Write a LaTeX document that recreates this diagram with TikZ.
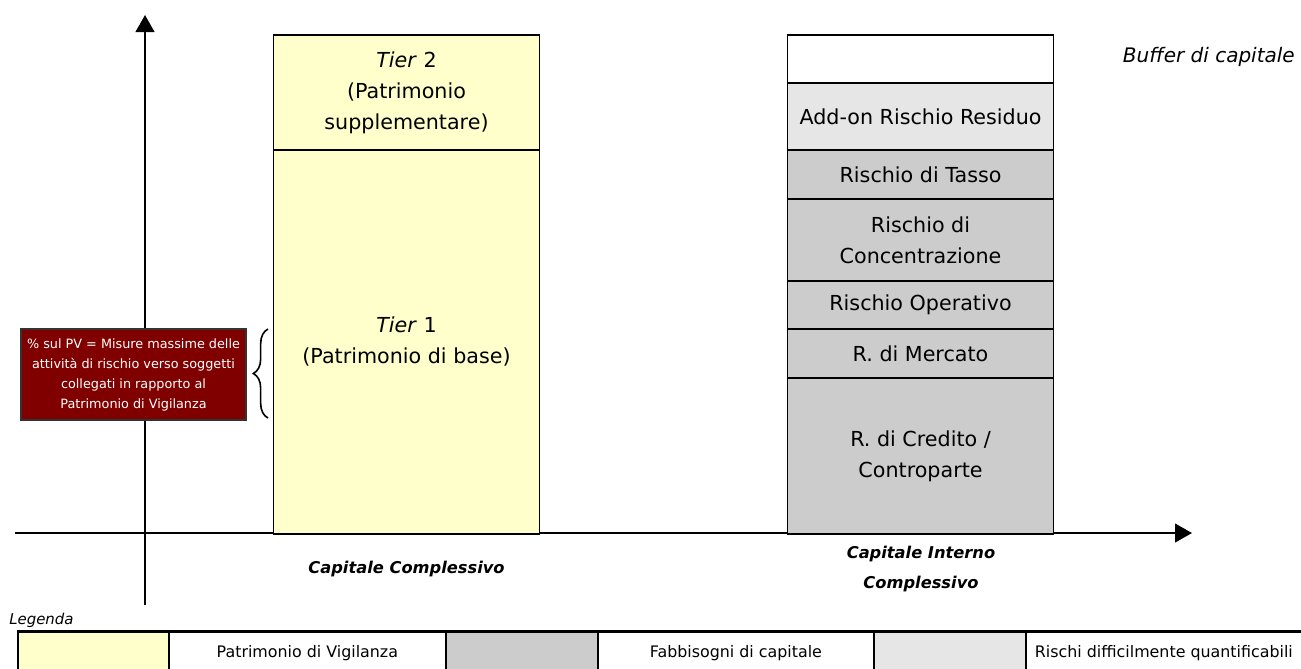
\documentclass[tikz,border=0pt]{standalone}
\usepackage{fontspec}
\setmainfont{DejaVu Sans}
\usetikzlibrary{arrows.meta,decorations.pathreplacing}
\definecolor{pvyellow}{HTML}{FFFFCC}
\definecolor{fgray}{HTML}{CCCCCC}
\definecolor{lgray}{HTML}{E6E6E6}
\definecolor{dred}{HTML}{800000}
\begin{document}
\begin{tikzpicture}[x=0.75pt,y=-0.75pt,
  seg/.style={draw=black, line width=1.4pt, minimum width=199.5pt, inner sep=0pt,
    anchor=north, align=center, font=\fontsize{15.5}{23.25}\selectfont},
  axis/.style={line width=1.6pt, -{Triangle[width=14pt,length=12.75pt]}},
  redbox/.style={draw=black!80, line width=1pt, fill=dred, text=white, minimum width=168.75pt,
    minimum height=68.25pt, inner sep=0pt, align=center, font=\fontsize{9.6}{15}\selectfont},
  caplab/.style={align=center, font=\fontsize{12.2}{22.5}\selectfont\bfseries\itshape},
  legcell/.style={draw=black, line width=1.3pt, anchor=north west, minimum height=31.5pt,
    inner sep=0pt, font=\fontsize{11.9}{13}\selectfont}
]
\useasboundingbox (0,0) rectangle (1301,668);
% axes
\coordinate (yb) at (145,605);
\coordinate (yt) at (145,15);
\coordinate (xl) at (15,533);
\coordinate (xr) at (1192,533);
\draw[axis] (yb) -- (yt);
\draw[axis] (xl) -- (xr);
% left column
\node[seg, fill=pvyellow, minimum height=86.25pt] (tier2) at (406.5,34)
  {\textit{Tier} 2\\(Patrimonio\\supplementare)};
\node[seg, fill=pvyellow, minimum height=288pt] (tier1) at (406.5,149)
  {\textit{Tier} 1\\(Patrimonio di base)};
% right column
\node[seg, fill=white, minimum height=36pt] (buffer) at (920.5,34) {};
\node[seg, fill=lgray, minimum height=50.25pt] (addon) at (920.5,82) {Add-on Rischio Residuo};
\node[seg, fill=fgray, minimum height=36.75pt] (tasso) at (920.5,149) {Rischio di Tasso};
\node[seg, fill=fgray, minimum height=61.5pt] (conc) at (920.5,198) {Rischio di\\Concentrazione};
\node[seg, fill=fgray, minimum height=36pt] (oper) at (920.5,280) {Rischio Operativo};
\node[seg, fill=fgray, minimum height=36.75pt] (merc) at (920.5,328) {R. di Mercato};
\node[seg, fill=fgray, minimum height=117pt] (cred) at (920.5,377) {R. di Credito /\\Controparte};
\node[anchor=east, inner sep=0pt, font=\fontsize{15}{18}\selectfont\itshape] (buflab) at (1295,57) {Buffer di capitale};
% red box and brace
\node[redbox] (pv) at (133.5,374.5)
  {\% sul PV = Misure massime delle\\attività di rischio verso soggetti\\collegati in rapporto al\\Patrimonio di Vigilanza};
\coordinate (bb) at (268,418);
\coordinate (bt) at (268,329);
\draw[line width=1.2pt, decorate, decoration={brace, amplitude=11pt}] (bb) -- (bt);
% axis labels
\node[caplab] (cc) at (406.5,569) {Capitale Complessivo};
\node[caplab] (cic) at (921,569) {Capitale Interno\\Complessivo};
% legend
\node[anchor=west, inner sep=0pt, font=\fontsize{11.2}{13}\selectfont\itshape] (leg) at (9,620) {Legenda};
\node[legcell, fill=pvyellow, minimum width=113.25pt] (l1) at (17,631) {};
\node[legcell, minimum width=207.75pt] (l2) at (168,631) {Patrimonio di Vigilanza};
\node[legcell, fill=fgray, minimum width=114pt] (l3) at (445,631) {};
\node[legcell, minimum width=207pt] (l4) at (597,631) {Fabbisogni di capitale};
\node[legcell, fill=lgray, minimum width=114pt] (l5) at (873,631) {};
\node[legcell, minimum width=207pt] (l6) at (1025,631) {Rischi difficilmente quantificabili};
\draw[line width=1.8pt] (l1.north west) -- (l6.north east);
\end{tikzpicture}
\end{document}
